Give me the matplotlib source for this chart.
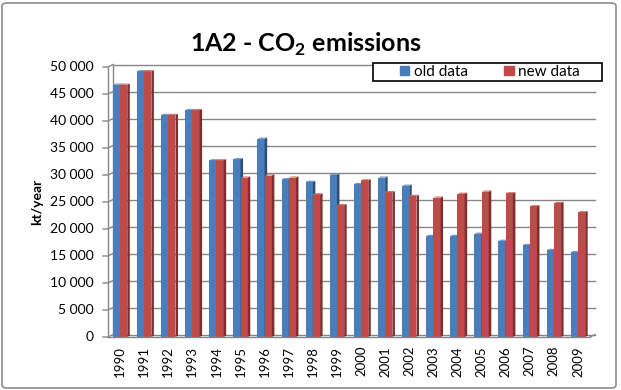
import numpy as np
import matplotlib
matplotlib.use("Agg")
import matplotlib.pyplot as plt
from matplotlib.patches import Polygon, Rectangle, FancyBboxPatch
from matplotlib.lines import Line2D
import matplotlib.transforms as mtrans

matplotlib.rcParams['font.family'] = ['Lato', 'DejaVu Sans']
matplotlib.rcParams['mathtext.fontset'] = 'custom'
matplotlib.rcParams['mathtext.rm'] = 'Lato:bold'
matplotlib.rcParams['mathtext.bf'] = 'Lato:bold'

# data (kt/year)
years = [str(y) for y in range(1990, 2010)]
old_data = [46700, 49200, 41100, 42000, 32700, 32900, 36700, 29200, 28700, 30000,
            28300, 29500, 28000, 18700, 18700, 19100, 17800, 17000, 16100, 15700]
new_data = [46700, 49200, 41100, 42000, 32700, 29500, 29900, 29500, 26400, 24400,
            29000, 26800, 26100, 25800, 26500, 26900, 26600, 24200, 24800, 23100]
yticks = list(range(0, 50001, 5000))
ytick_labels = ["0" if v == 0 else f"{v // 1000} {v % 1000:03d}" for v in yticks]

W, H = 621, 390
fig = plt.figure(figsize=(W / 100, H / 100), dpi=100)

# outer chart border
fig.patches.append(FancyBboxPatch((2 / W, 2 / H), 614 / W, 385 / H,
                                  boxstyle="round,pad=0,rounding_size=0.008",
                                  transform=fig.transFigure, fill=False,
                                  edgecolor="#8c8c8c", lw=1.2))

ax = fig.add_axes([108 / W, 53 / H, 482 / W, 270 / H])
ax.set_xlim(-0.5, len(years) - 0.5)
ax.set_ylim(0, 50000)
for s in ax.spines.values():
    s.set_visible(False)
ax.set_xticks([])
ax.set_yticks([])

grid_c = "#868686"
# depth offset of the back wall
dx_px, dy_px = 5, 2.5
back = mtrans.offset_copy(ax.transData, fig=fig, x=dx_px, y=dy_px, units='dots')
lab_tr = mtrans.offset_copy(ax.transData, fig=fig, x=-14, y=0, units='dots')

x = np.arange(len(years))
for v, lab in zip(yticks, ytick_labels):
    ax.plot([-0.5, len(years) - 0.5], [v, v], color=grid_c, lw=1.0,
            transform=back, clip_on=False, zorder=1)
    ax.text(-0.5, v, lab, ha="right", va="center", fontsize=10,
            color="#000000", transform=lab_tr)

# left axis line, ticks and wall edge
for v in yticks:
    p0 = ax.transData.transform((-0.5, v))
    fig.lines.append(Line2D([p0[0] - 5, p0[0], p0[0] + dx_px], [p0[1], p0[1], p0[1] + dy_px],
                            transform=None, color=grid_c, lw=1.0))
ax.plot([-0.5, -0.5], [0, 50000], color=grid_c, lw=1.0, clip_on=False, zorder=1)
ax.plot([-0.5, -0.5], [0, 50000], color=grid_c, lw=1.0, transform=back, clip_on=False, zorder=1)
# floor front edge and right edge
ax.plot([-0.5, len(years) - 0.5], [0, 0], color=grid_c, lw=1.0, clip_on=False, zorder=5)
pr = ax.transData.transform((len(years) - 0.5, 0))
fig.lines.append(Line2D([pr[0], pr[0] + dx_px], [pr[1], pr[1] + dy_px],
                        transform=None, color=grid_c, lw=1.0))

# 3D-looking bars
bw = 0.3
sx = dx_px / (482 / len(years))      # depth in data units (x)
sy = dy_px * 50000 / 270             # depth in data units (y)

def draw_bars(xs, vals, front, side, top):
    ax.bar(xs, vals, width=bw, align="edge", color=front, edgecolor="none", zorder=3)
    for xl, h in zip(xs, vals):
        xr = xl + bw
        ax.add_patch(Polygon([(xr, 0), (xr, h), (xr + sx * 0.5, h + sy * 0.5), (xr + sx * 0.5, sy * 0.5)],
                             closed=True, facecolor=side, edgecolor="none", zorder=3))
        ax.add_patch(Polygon([(xl, h), (xr, h), (xr + sx * 0.5, h + sy * 0.5), (xl + sx * 0.5, h + sy * 0.5)],
                             closed=True, facecolor=top, edgecolor="none", zorder=3))

draw_bars(x - bw, old_data, "#4a7ebb", "#2c4d75", "#6f96c8")
draw_bars(x, new_data, "#be4b48", "#7e2f2d", "#d07573")

# category labels
for xi, lab in zip(x, years):
    ax.text(xi, 0, lab, rotation=90, ha="center", va="top", fontsize=9.5,
            transform=mtrans.offset_copy(ax.transData, fig=fig, x=0, y=-9, units='dots'))

ax.text(-0.5, 25000, "kt/year", rotation=90, ha="center", va="center", fontsize=10,
        fontweight="bold", transform=mtrans.offset_copy(ax.transData, fig=fig, x=-71, y=0, units='dots'))

fig.text(306 / W, 1 - 44 / H, r"1A2 - CO$_2$ emissions", ha="center", va="center",
         fontsize=18, fontweight="bold")

# legend
fig.patches.append(Rectangle((373 / W, 1 - 81 / H), 229 / W, 18 / H, transform=fig.transFigure,
                             fill=True, facecolor="white", edgecolor="black", lw=1.2, zorder=10))
handles = [Rectangle((0, 0), 1, 1, color="#4a7ebb"), Rectangle((0, 0), 1, 1, color="#be4b48")]
leg = fig.legend(handles, ["old data", "new data"], ncol=2, loc="center",
                 bbox_to_anchor=(490 / W, 1 - 72 / H), frameon=False, fontsize=11,
                 handlelength=0.6, handleheight=0.6, handletextpad=0.3, columnspacing=2.4)
leg.set_zorder(11)

fig.savefig("out.png", dpi=100)
